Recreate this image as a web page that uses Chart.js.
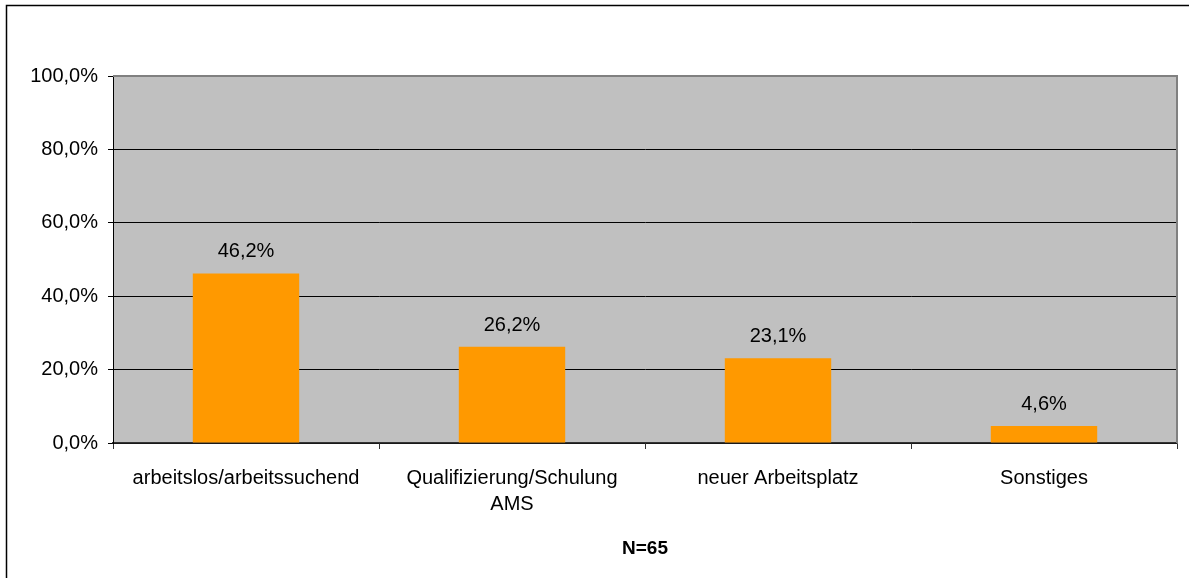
<!DOCTYPE html>
<html>
<head>
<meta charset="utf-8">
<script src="https://cdn.jsdelivr.net/npm/chart.js@4/dist/chart.umd.min.js"></script>
<style>
  html, body { margin: 0; padding: 0; background: #fff; }
  #wrap { position: relative; width: 1189px; height: 578px; }
</style>
</head>
<body>
<div id="wrap"><canvas id="c" width="1189" height="578"></canvas></div>
<script>
// Status after the program (share of respondents, N=65)
const categories = [
  'arbeitslos/arbeitssuchend',
  ['Qualifizierung/Schulung', 'AMS'],
  'neuer Arbeitsplatz',
  'Sonstiges'
];
const shares = [46.2, 26.2, 23.1, 4.6];
const yTicks = [0, 20, 40, 60, 80, 100];
const sampleNote = 'N=65';

const FONT = '"Liberation Sans", Arial, sans-serif';
const fmt = (v, d) => v.toFixed(d).replace('.', ',') + '%';

// Grey plot background, frame on top/right, and the outer frame of the graphic
const framePlugin = {
  id: 'frame',
  beforeDraw(chart) {
    const { ctx, chartArea: a } = chart;
    ctx.save();
    ctx.fillStyle = '#C0C0C0';
    ctx.fillRect(a.left, a.top, a.right - a.left, a.bottom - a.top);
    ctx.strokeStyle = '#000';
    ctx.lineWidth = 1.5;
    ctx.beginPath();
    ctx.moveTo(6.5, 600);
    ctx.lineTo(6.5, 5.5);
    ctx.lineTo(1200, 5.5);
    ctx.stroke();
    ctx.restore();
  },
  afterDatasetsDraw(chart) {
    const { ctx, chartArea: a } = chart;
    ctx.save();
    ctx.strokeStyle = '#808080';
    ctx.lineWidth = 2;
    ctx.beginPath();
    ctx.moveTo(a.left, a.top);
    ctx.lineTo(a.right, a.top);
    ctx.lineTo(a.right, a.bottom);
    ctx.stroke();
    // value labels above the bars
    const meta = chart.getDatasetMeta(0);
    ctx.fillStyle = '#000';
    ctx.font = '20px ' + FONT;
    ctx.textAlign = 'center';
    ctx.textBaseline = 'alphabetic';
    meta.data.forEach((bar, i) => {
      ctx.fillText(fmt(shares[i], 1), bar.x, bar.y - 16);
    });
    ctx.restore();
  }
};

new Chart(document.getElementById('c'), {
  type: 'bar',
  data: {
    labels: categories,
    datasets: [{
      data: shares,
      backgroundColor: '#FF9900',
      borderWidth: 0,
      categoryPercentage: 1,
      barPercentage: 0.4
    }]
  },
  options: {
    responsive: false,
    animation: false,
    devicePixelRatio: 1,
    layout: { padding: { top: 76, right: 12, left: 0, bottom: 0 } },
    plugins: { legend: { display: false }, tooltip: { enabled: false } },
    scales: {
      x: {
        grid: { display: true, drawOnChartArea: false, offset: true, tickLength: 6, tickColor: '#333', lineWidth: 1 },
        border: { display: true, color: '#333', width: 1.5 },
        ticks: { color: '#000', font: { family: FONT, size: 20, lineHeight: 1.3 }, padding: 16, maxRotation: 0, autoSkip: false },
        title: { display: true, text: sampleNote, color: '#000', font: { family: FONT, size: 19, weight: 'bold' }, padding: { top: 0, bottom: 18 } },
        afterFit(scale) { scale.height = 135; }
      },
      y: {
        min: 0,
        max: 100,
        afterBuildTicks(scale) { scale.ticks = yTicks.map(v => ({ value: v })); },
        grid: {
          color: ctx => (ctx.tick && ctx.tick.value === 100) ? 'rgba(0,0,0,0)' : '#000',
          tickColor: '#000',
          tickLength: 5,
          lineWidth: 1
        },
        border: { display: true, color: '#000', width: 1 },
        ticks: { color: '#000', font: { family: FONT, size: 20 }, padding: 10, callback: v => fmt(v, 1) },
        afterFit(scale) { scale.width = 113; }
      }
    }
  },
  plugins: [framePlugin]
});
</script>
</body>
</html>
